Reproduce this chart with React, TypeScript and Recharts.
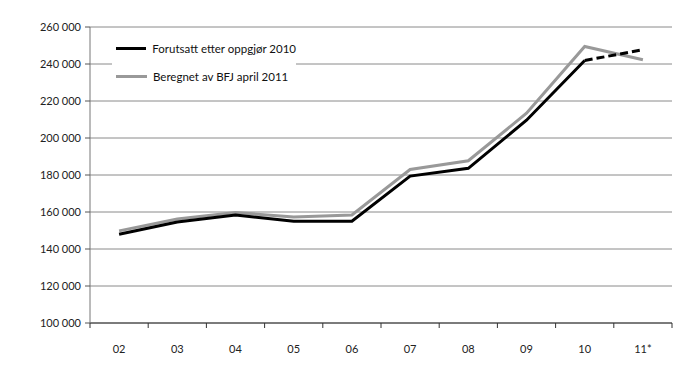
import { CartesianGrid, Line, LineChart, XAxis, YAxis } from 'recharts'

const YEARS = ['02', '03', '04', '05', '06', '07', '08', '09', '10', '11*']
// Forutsatt etter oppgjør 2010 (solid up to 10, dashed estimate for 11)
const FORUTSATT = [148000, 154600, 158400, 155000, 155000, 179400, 183600, 209600, 241900, null]
const FORUTSATT_EST = [null, null, null, null, null, null, null, null, 241900, 247700]
// Beregnet av BFJ april 2011
const BEREGNET = [149800, 156200, 159700, 157300, 158400, 183000, 187700, 213400, 249500, 242300]
const Y_TICKS = [100000, 120000, 140000, 160000, 180000, 200000, 220000, 240000, 260000]

const W = 700
const H = 373
const MARGIN = { top: 27, right: 28, bottom: 20, left: 0 }
const Y_AXIS_W = 90
const BAND = (W - MARGIN.left - MARGIN.right - Y_AXIS_W) / YEARS.length

const FONT = 'Lato, "Open Sans", sans-serif'

const data = YEARS.map((year, i) => ({
  year,
  forutsatt: FORUTSATT[i],
  forutsattEst: FORUTSATT_EST[i],
  beregnet: BEREGNET[i],
}))

const fmt = (v: number) => String(v).replace(/\B(?=(\d{3})+(?!\d))/g, ' ')

function XTick(props: any) {
  const { x, y, payload, index } = props
  const last = index === YEARS.length - 1
  return (
    <g>
      <line x1={x - BAND / 2} x2={x - BAND / 2} y1={y} y2={y + 5} stroke="#333" />
      {last && <line x1={x + BAND / 2} x2={x + BAND / 2} y1={y} y2={y + 5} stroke="#333" />}
      <text x={x} y={y + 30} textAnchor="middle" fontSize={11} fontFamily={FONT} fill="#222">
        {payload.value}
      </text>
    </g>
  )
}

const LEGEND_ITEMS = [
  { label: 'Forutsatt etter oppgjør 2010', color: '#000' },
  { label: 'Beregnet av BFJ april 2011', color: '#999' },
]

// legend drawn as an overlay so it does not eat into the plot area
function LegendBox() {
  return (
    <div
      style={{
        position: 'absolute',
        left: 112,
        top: 34,
        width: 184,
        background: '#fff',
        fontFamily: FONT,
        fontSize: 11.5,
        color: '#111',
        whiteSpace: 'nowrap',
      }}
    >
      {LEGEND_ITEMS.map((it) => (
        <div key={it.label} style={{ display: 'flex', alignItems: 'center', height: 28 }}>
          <span style={{ display: 'inline-block', width: 31, height: 3, marginLeft: 4, background: it.color, marginRight: 6 }} />
          <span>{it.label}</span>
        </div>
      ))}
    </div>
  )
}

export default function App() {
  return (
    <div style={{ position: 'absolute', left: 0, top: 0, width: W, height: H, background: '#fff' }}>
      <LineChart width={W} height={H} data={data} margin={MARGIN}>
        <CartesianGrid vertical={false} stroke="#8a8a8a" strokeWidth={1} />
        <XAxis
          dataKey="year"
          axisLine={{ stroke: '#333' }}
          tickLine={false}
          tickSize={0}
          tickMargin={0}
          height={30}
          interval={0}
          padding={{ left: BAND / 2, right: BAND / 2 }}
          tick={<XTick />}
        />
        <YAxis
          domain={[100000, 260000]}
          ticks={Y_TICKS}
          width={Y_AXIS_W}
          axisLine={{ stroke: '#777' }}
          tickLine={{ stroke: '#555' }}
          tickSize={5}
          tickMargin={4}
          tickFormatter={fmt}
          tick={{ fontSize: 11, fontFamily: FONT, fill: '#222' }}
          interval={0}
        />
        <Line dataKey="beregnet" stroke="#999" strokeWidth={3} dot={false} isAnimationActive={false} type="linear" />
        <Line dataKey="forutsatt" stroke="#000" strokeWidth={3} dot={false} isAnimationActive={false} type="linear" />
        <Line
          dataKey="forutsattEst"
          stroke="#000"
          strokeWidth={3}
          strokeDasharray="8 4"
          dot={false}
          isAnimationActive={false}
          type="linear"
        />
      </LineChart>
      <LegendBox />
    </div>
  )
}
